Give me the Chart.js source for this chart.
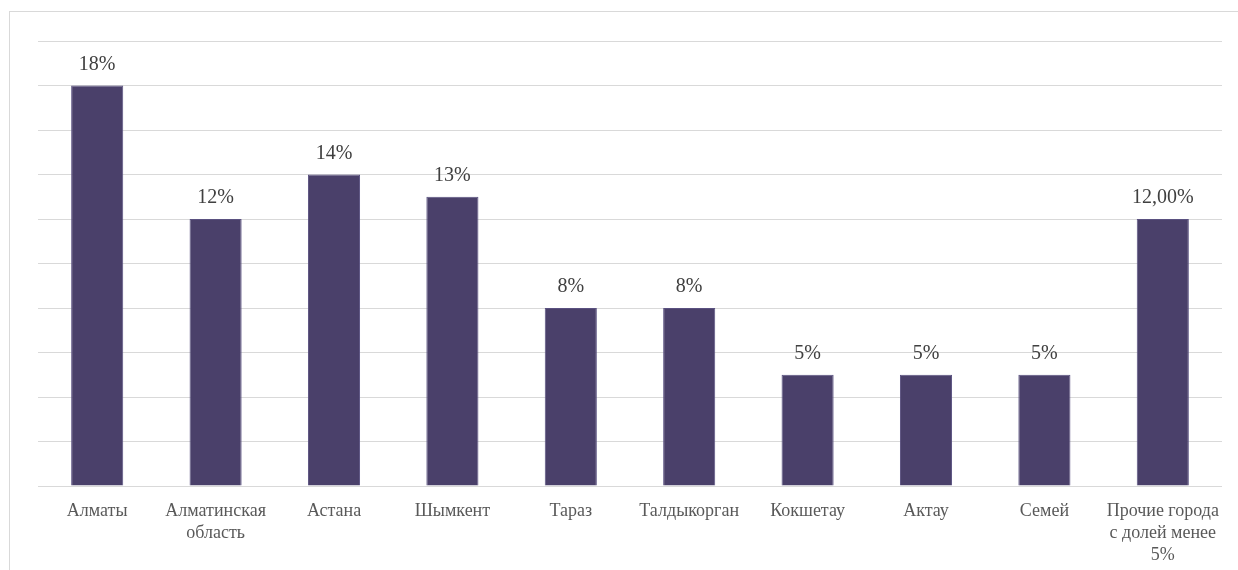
<!DOCTYPE html>
<html>
<head>
<meta charset="utf-8">
<script src="https://cdn.jsdelivr.net/npm/chart.js@4"></script>
<style>
  html, body { margin: 0; padding: 0; background: #fff; }
  #frame {
    position: absolute; left: 9px; top: 11px; width: 1240px; height: 570px;
    border: 1px solid #d9d9d9; box-sizing: border-box;
  }
  #wrap { position: absolute; left: 0; top: 0; width: 1238px; height: 570px; }
</style>
</head>
<body>
<div id="frame"></div>
<div id="wrap"><canvas id="cityChart"></canvas></div>
<script>
// Доли городов
var categories = [
  'Алматы',
  ['Алматинская', 'область'],
  'Астана',
  'Шымкент',
  'Тараз',
  'Талдыкорган',
  'Кокшетау',
  'Актау',
  'Семей',
  ['Прочие города', 'с долей менее', '5%']
];
var shares = [18, 12, 14, 13, 8, 8, 5, 5, 5, 12];
var valueLabels = ['18%', '12%', '14%', '13%', '8%', '8%', '5%', '5%', '5%', '12,00%'];
var yMax = 20;
var yStep = 2;

document.addEventListener('DOMContentLoaded', function () {
  var ctx = document.getElementById('cityChart');

  // labels above each bar
  var barLabels = {
    id: 'barLabels',
    afterDatasetsDraw: function (chart) {
      var c = chart.ctx;
      c.save();
      c.font = '20px "Liberation Serif", serif';
      c.fillStyle = '#404040';
      c.textAlign = 'center';
      c.textBaseline = 'alphabetic';
      chart.getDatasetMeta(0).data.forEach(function (bar, i) {
        c.fillText(valueLabels[i], bar.x, bar.y - 16);
      });
      c.restore();
    }
  };

  new Chart(ctx, {
    type: 'bar',
    data: {
      labels: categories,
      datasets: [{
        data: shares,
        backgroundColor: '#4a406a',
        borderColor: '#5a5180',
        borderWidth: 1,
        categoryPercentage: 1,
        barPercentage: 0.44
      }]
    },
    options: {
      responsive: true,
      maintainAspectRatio: false,
      animation: false,
      layout: { padding: { left: 38, right: 16, top: 41, bottom: 0 } },
      plugins: {
        legend: { display: false },
        tooltip: { enabled: false }
      },
      scales: {
        y: {
          min: 0,
          max: yMax,
          ticks: { display: false, stepSize: yStep },
          grid: { color: '#d9d9d9', lineWidth: 1, drawTicks: false },
          border: { display: false },
          afterFit: function (scale) { scale.width = 0; }
        },
        x: {
          grid: { display: false },
          border: { display: false },
          ticks: {
            color: '#595959',
            padding: 6,
            maxRotation: 0,
            autoSkip: false,
            font: { family: '"Liberation Serif", serif', size: 18, lineHeight: 1.22 }
          },
          afterFit: function (scale) { scale.height = 84; }
        }
      }
    },
    plugins: [barLabels]
  });
});
</script>
</body>
</html>
